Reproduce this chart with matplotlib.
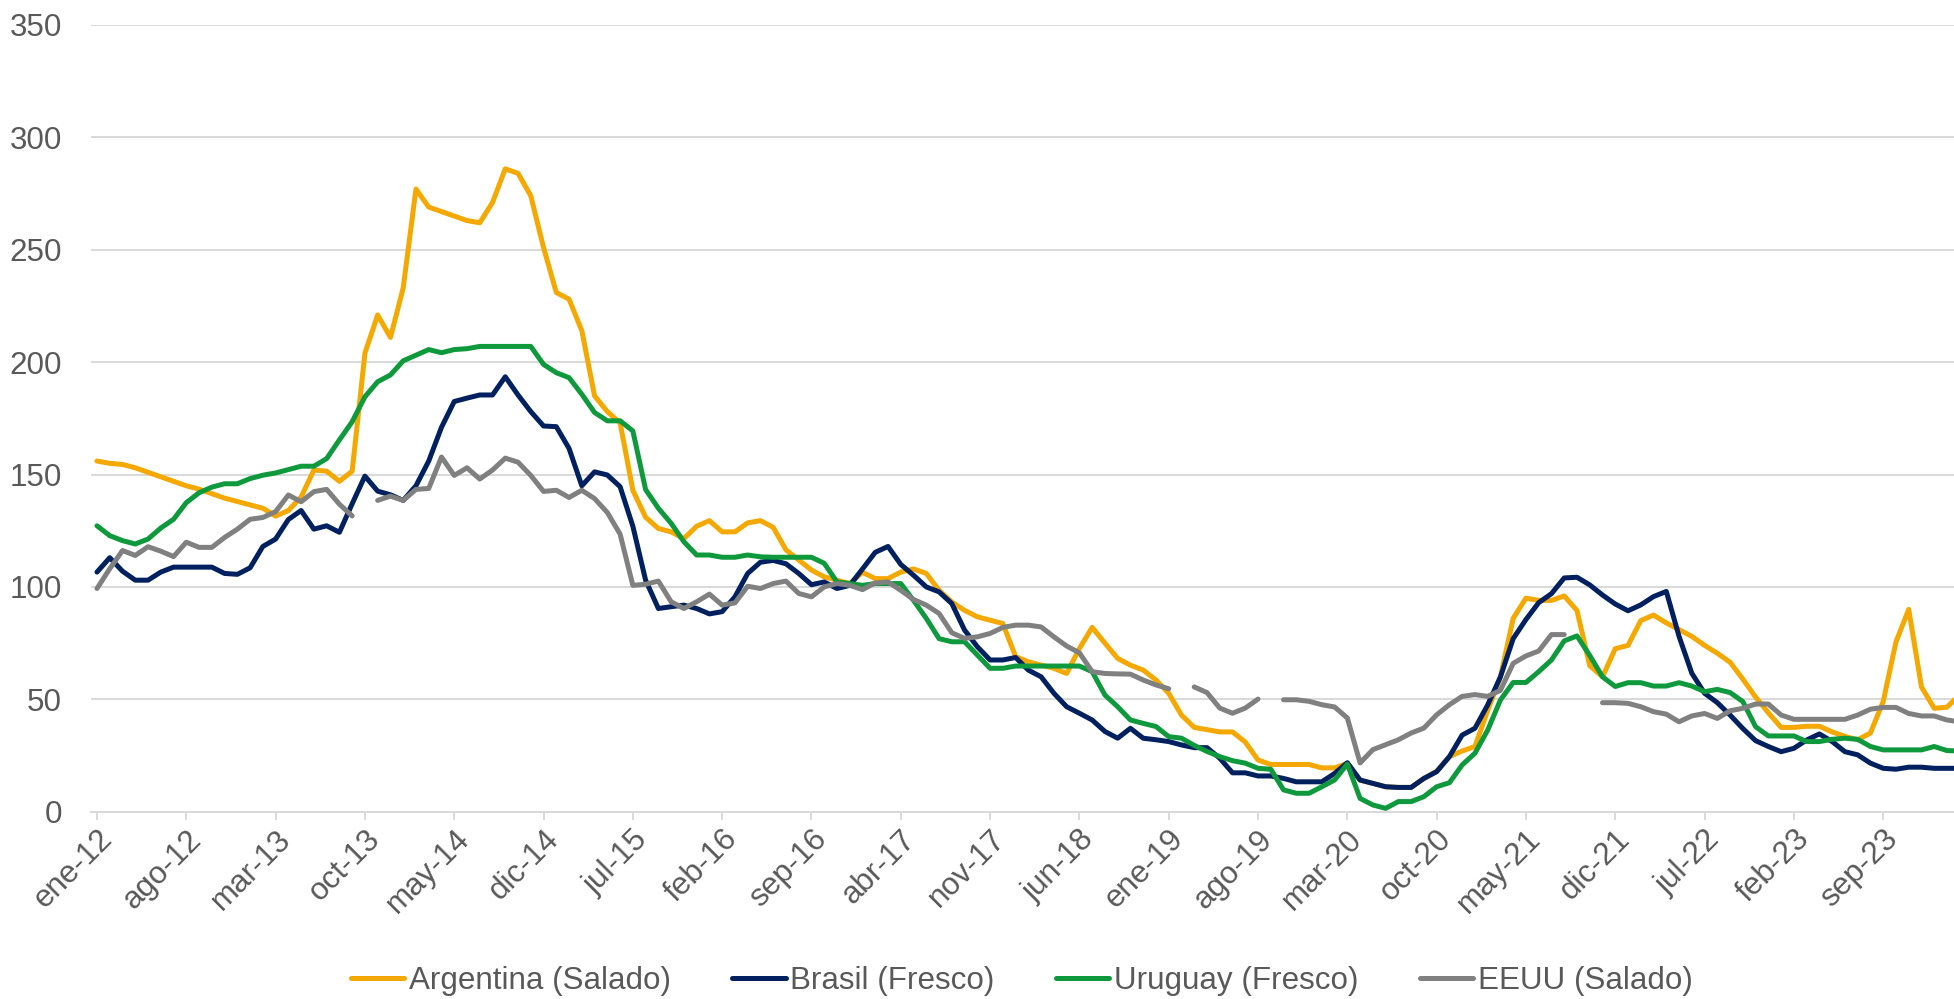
import numpy as np
import matplotlib
matplotlib.use('Agg')
import matplotlib.pyplot as plt

plt.rcParams['font.family'] = ['Liberation Sans', 'DejaVu Sans']

# monthly values, ene-12 .. mar-24
argentina = [
    156, 155, 154.5, 153, 151, 149, 147, 145, 143.5, 141.5,
    139.5, 138, 136.5, 135, 131.5, 134, 140, 152, 151.5, 147,
    151.5, 204, 221, 211, 233, 277, 269, 267, 265, 263,
    262, 271, 286, 284, 274, 251, 231, 228, 214, 185,
    178, 173, 143, 131, 126, 124.5, 121.5, 127, 129.5, 124.5,
    124.5, 128.5, 129.5, 126.5, 116.5, 112, 107.5, 104.5, 103, 101.5,
    106.5, 103.7, 103.7, 106.6, 108, 106, 98.5, 93.3, 89.6, 86.7,
    85.2, 83.7, 69, 66.7, 65.2, 63.8, 61.5, 72.6, 82, 75,
    68.2, 65.2, 63, 58.6, 52.7, 43, 37.5, 36.5, 35.5, 35.5,
    31, 23, 21, 21, 21, 21, 19.5, 19.5, 21.5, 14,
    12.6, 11.1, 10.8, 10.8, 14.8, 18, 24.5, 27, 29, 45,
    60, 86, 95, 94, 94, 96, 89.5, 65, 60, 72.5,
    74, 85, 87.5, 84, 81, 78, 74, 70.5, 66.5, 59,
    51, 44, 37.5, 37.5, 38, 38, 35.5, 33.5, 32, 35,
    49, 75.5, 90, 55.5, 46, 46.5, 52,
]
brasil = [
    106.6, 113, 107, 103, 103, 106.6, 108.8, 108.8, 108.8, 108.8,
    106, 105.6, 108.5, 118, 121.3, 130, 134, 125.7, 127.2, 124.3,
    137, 149.3, 142.6, 141, 138.5, 145, 156, 171, 182.5, 184,
    185.4, 185.4, 193.5, 185.4, 178, 171.6, 171.3, 161.6, 145, 151.2,
    149.8, 144.6, 127, 103, 90.4, 91.2, 91.9, 90.4, 88, 89,
    95.6, 106, 111, 111.8, 110.3, 106, 101, 102.2, 99.3, 100.7,
    108, 115.4, 118, 110, 105.2, 100, 97.8, 92.6, 80.8, 73.4,
    67.5, 67.5, 68.6, 63, 60, 52.7, 46.7, 43.8, 40.8, 35.7,
    32.7, 37.1, 32.7, 32, 31.2, 29.7, 28.5, 28.5, 23.8, 17.3,
    17.3, 15.9, 15.9, 14.8, 13.3, 13.3, 13.3, 17, 21.8, 14.1,
    12.6, 11.1, 10.8, 10.8, 14.8, 17.8, 24.5, 34.1, 37.1, 47.5,
    60, 77, 85.5, 93, 97, 104, 104.3, 100.9, 96.4, 92.4,
    89.4, 92, 95.7, 98, 78, 61.6, 52.7, 48.5, 43, 37,
    31.6, 29, 26.7, 28.2, 31.9, 34.6, 31.2, 26.7, 25.3, 21.6,
    19.3, 18.9, 19.8, 19.8, 19.3, 19.3, 19.3,
]
uruguay = [
    127.2, 122.8, 120.6, 119.1, 121.3, 126.2, 130.1, 137.5, 141.9, 144.4,
    145.9, 145.9, 148.2, 149.7, 150.7, 152.2, 153.7, 153.7, 157.1, 165.4,
    173.5, 184.6, 191.3, 194.3, 200.6, 203.1, 205.6, 204.2, 205.6, 206,
    207, 207, 207, 207, 207, 199, 195.3, 193.1, 185.7, 177.6,
    173.9, 173.9, 169.4, 143.3, 135, 128.3, 120.1, 114.2, 114.2, 113.2,
    113.2, 114.2, 113.4, 113.2, 113.2, 113.2, 113.2, 110.5, 102.2, 101.5,
    100.7, 101.5, 101.5, 101.5, 94, 86, 77, 75.6, 75.6, 69.7,
    63.8, 63.8, 64.8, 64.8, 64.8, 64.8, 64.8, 64.8, 62.3, 51.9,
    46.7, 40.8, 39.3, 37.9, 33.4, 32.7, 29.5, 26.8, 24.5, 22.7,
    21.6, 19.3, 18.9, 9.7, 8.2, 8.2, 11.1, 14.1, 21.2, 5.9,
    3, 1.5, 4.5, 4.5, 6.7, 11.1, 12.9, 20.8, 26, 36.3,
    49.7, 57.5, 57.5, 62.3, 67.5, 76, 78.2, 69.5, 60, 55.7,
    57.4, 57.4, 55.9, 55.9, 57.4, 55.9, 53.4, 54.4, 53, 49,
    37.8, 33.7, 33.7, 33.7, 31.2, 31.2, 32.2, 32.7, 32.2, 29,
    27.5, 27.5, 27.5, 27.5, 29, 27.2, 27,
]
nan = np.nan
eeuu = [
    99.3, 108.1, 116.2, 114, 117.9, 115.9, 113.5, 119.9, 117.6, 117.6,
    122, 125.7, 130.1, 130.9, 133.5, 140.9, 137.9, 142.4, 143.4, 136.8,
    131.6, nan, 138.5, 140.4, 138.5, 143.4, 143.8, 157.8, 149.6, 153,
    148, 152, 157.3, 155.5, 149.6, 142.5, 143, 139.8, 143, 139.3,
    133.1, 123.5, 100.7, 101.2, 102.6, 93.4, 90.4, 93.4, 96.8, 91.9,
    92.9, 100.3, 99.3, 101.5, 102.6, 97.1, 95.6, 100, 101.5, 100.7,
    98.8, 101.8, 102.2, 98.5, 94.4, 91.9, 88.2, 79.6, 77.1, 77.8,
    79.3, 82, 83, 83, 82.2, 77.8, 73.7, 70.7, 62.3, 61.5,
    61.3, 61.2, 58.6, 56.4, 54.7, nan, 55.5, 53, 46.1, 43.8,
    46.1, 50.1, nan, 49.8, 49.8, 49.1, 47.6, 46.6, 41.7, 21.7,
    27.6, 29.8, 32, 35, 37.2, 43.1, 47.6, 51.3, 52.1, 51.3,
    54, 66, 69.3, 71.5, 78.8, 78.8, nan, nan, 48.5, 48.5,
    48.2, 46.7, 44.5, 43.4, 40, 42.6, 43.7, 41.5, 44.9, 46,
    47.9, 47.9, 43, 41.1, 41.1, 41.1, 41.1, 41.1, 43, 45.6,
    46.4, 46.4, 43.7, 42.6, 42.6, 40.8, 40,
]

tick_labels = ['ene-12', 'ago-12', 'mar-13', 'oct-13', 'may-14', 'dic-14',
               'jul-15', 'feb-16', 'sep-16', 'abr-17', 'nov-17', 'jun-18',
               'ene-19', 'ago-19', 'mar-20', 'oct-20', 'may-21', 'dic-21',
               'jul-22', 'feb-23', 'sep-23']
series_names = ['Argentina (Salado)', 'Brasil (Fresco)', 'Uruguay (Fresco)', 'EEUU (Salado)']
colors = ['#F5A800', '#002060', '#0E9A3C', '#808080']

W, H = 1954, 999
fig = plt.figure(figsize=(W / 100, H / 100), dpi=100)
ax = fig.add_axes([91 / W, (H - 811.7) / H, 1 - 91 / W, (811.7 - 25) / H])

x = np.arange(len(argentina))
for vals, c, name in zip([argentina, brasil, uruguay, eeuu], colors, series_names):
    ax.plot(x, vals, color=c, lw=3.6, label=name,
            solid_capstyle='round', solid_joinstyle='round')

ax.set_xlim(-0.47, 145.55)
ax.set_ylim(0, 350)
ax.set_yticks(range(0, 351, 50))
ax.yaxis.grid(True, color='#d9d9d9', lw=1.4)
ax.set_axisbelow(True)
for s in ['top', 'right', 'left']:
    ax.spines[s].set_visible(False)
ax.spines['bottom'].set_color('#d9d9d9')
ax.spines['bottom'].set_linewidth(1.4)

ax.set_xticks(np.arange(0, 141, 7))
ax.set_xticklabels(tick_labels, rotation=45, ha='right', rotation_mode='anchor')
ax.tick_params(axis='y', length=0, pad=21, labelsize=22.6, labelcolor='#595959')
ax.tick_params(axis='x', length=6, width=1.4, color='#d9d9d9', pad=3,
               labelsize=22.6, labelcolor='#595959')

fig.legend(loc='center', bbox_to_anchor=(0.523, 0.018), ncol=4, frameon=False,
           fontsize=22.6, handlelength=1.7, handletextpad=0.15,
           columnspacing=1.95, labelcolor='#595959')

fig.savefig('out.png', dpi=100)
